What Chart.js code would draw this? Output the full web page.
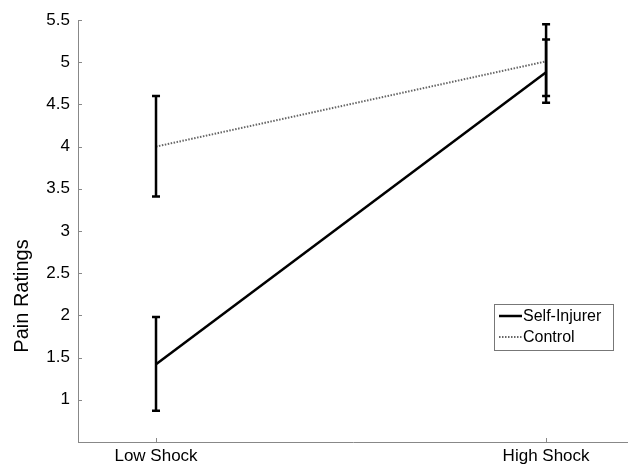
<!DOCTYPE html>
<html>
<head>
<meta charset="utf-8">
<script src="https://cdn.jsdelivr.net/npm/chart.js@4/dist/chart.umd.min.js"></script>
<style>
  html, body { margin: 0; padding: 0; background: #fff; }
  #wrap { width: 628px; height: 465px; }
</style>
</head>
<body>
<div id="wrap"><canvas id="myChart" width="628" height="465"></canvas></div>
<script>
// data
const conditions = ['Low Shock', 'High Shock'];
const conditionX = [1, 2];
const seriesNames = ['Self-Injurer', 'Control'];
const selfInjurer = [1.42, 4.88];
const selfInjurerLow = [0.87, 4.52];
const selfInjurerHigh = [1.98, 5.27];
const control = [4.0, 5.01];
const controlLow = [3.41, 4.60];
const controlHigh = [4.60, 5.45];
const yTicks = [1, 1.5, 2, 2.5, 3, 3.5, 4, 4.5, 5, 5.5];

const FONT = "'Liberation Sans', Arial, sans-serif";

function toPoints(vals) {
    return vals.map((v, i) => ({ x: conditionX[i], y: v }));
}

// error bars, axis ticks (inward), y title and legend
const extras = {
    id: 'extras',
    afterDatasetsDraw(chart) {
        const ctx = chart.ctx;
        const xs = chart.scales.x, ys = chart.scales.y;
        const bars = [[selfInjurerLow, selfInjurerHigh], [controlLow, controlHigh]];
        ctx.save();
        ctx.strokeStyle = '#000';
        ctx.lineWidth = 2.5;
        bars.forEach(([lo, hi]) => {
            for (let i = 0; i < conditionX.length; i++) {
                const px = xs.getPixelForValue(conditionX[i]);
                const y1 = ys.getPixelForValue(lo[i]);
                const y2 = ys.getPixelForValue(hi[i]);
                ctx.beginPath();
                ctx.moveTo(px, y1); ctx.lineTo(px, y2);
                ctx.moveTo(px - 4, y1); ctx.lineTo(px + 4, y1);
                ctx.moveTo(px - 4, y2); ctx.lineTo(px + 4, y2);
                ctx.stroke();
            }
        });
        ctx.restore();
    },
    afterDraw(chart) {
        const ctx = chart.ctx;
        const xs = chart.scales.x, ys = chart.scales.y;
        const a = chart.chartArea;
        ctx.save();
        // inward ticks
        ctx.strokeStyle = '#888';
        ctx.lineWidth = 1;
        ctx.beginPath();
        yTicks.forEach(t => {
            const py = Math.round(ys.getPixelForValue(t)) + 0.5;
            ctx.moveTo(a.left, py); ctx.lineTo(a.left + 4, py);
        });
        conditionX.forEach(c => {
            const px = Math.round(xs.getPixelForValue(c)) + 0.5;
            ctx.moveTo(px, a.bottom); ctx.lineTo(px, a.bottom - 4);
        });
        ctx.stroke();

        // y axis title
        ctx.fillStyle = '#000';
        ctx.font = '20px ' + FONT;
        ctx.textAlign = 'center';
        ctx.textBaseline = 'middle';
        ctx.translate(22, 296);
        ctx.rotate(-Math.PI / 2);
        ctx.fillText('Pain Ratings', 0, 0);
        ctx.setTransform(1, 0, 0, 1, 0, 0);

        // legend box
        const lx = 494, ly = 304, lw = 119, lh = 46;
        ctx.fillStyle = '#fff';
        ctx.fillRect(lx, ly, lw, lh);
        ctx.strokeStyle = '#777';
        ctx.lineWidth = 1;
        ctx.strokeRect(lx + 0.5, ly + 0.5, lw, lh);
        ctx.font = '16px ' + FONT;
        ctx.textAlign = 'left';
        ctx.fillStyle = '#000';
        chart.data.datasets.forEach((ds, i) => {
            const cy = ly + 12 + i * 21;
            ctx.beginPath();
            ctx.strokeStyle = ds.borderColor;
            ctx.lineWidth = ds.borderWidth;
            ctx.setLineDash(ds.borderDash || []);
            ctx.moveTo(lx + 5, cy); ctx.lineTo(lx + 28, cy);
            ctx.stroke();
            ctx.setLineDash([]);
            ctx.fillText(ds.label, lx + 29, cy + 1);
        });
        ctx.restore();
    }
};

new Chart(document.getElementById('myChart').getContext('2d'), {
    type: 'line',
    data: {
        datasets: [{
            label: seriesNames[0],
            data: toPoints(selfInjurer),
            borderColor: '#000',
            borderWidth: 2.5,
            pointRadius: 0,
            fill: false
        }, {
            label: seriesNames[1],
            data: toPoints(control),
            borderColor: '#666',
            borderWidth: 2,
            borderDash: [1.5, 1.5],
            pointRadius: 0,
            fill: false
        }]
    },
    options: {
        responsive: false,
        animation: false,
        layout: { padding: { left: 0, right: 0, top: 20, bottom: 0 } },
        plugins: { legend: { display: false }, tooltip: { enabled: false } },
        scales: {
            x: {
                type: 'linear',
                min: 0.8,
                max: 2.21,
                afterBuildTicks: s => { s.ticks = conditionX.map(v => ({ value: v })); },
                afterFit: s => { s.height = 23; },
                ticks: {
                    callback: v => conditions[conditionX.indexOf(v)] || '',
                    color: '#000',
                    font: { family: FONT, size: 17 },
                    padding: 4,
                    maxRotation: 0
                },
                grid: { display: false, drawTicks: false },
                border: { display: true, color: '#888', width: 1 }
            },
            y: {
                min: 0.5,
                max: 5.5,
                afterBuildTicks: s => { s.ticks = yTicks.map(v => ({ value: v })); },
                afterFit: s => { s.width = 78; },
                ticks: {
                    callback: v => String(v),
                    color: '#000',
                    font: { family: FONT, size: 17 },
                    padding: 8
                },
                grid: { display: false, drawTicks: false },
                border: { display: true, color: '#888', width: 1 }
            }
        }
    },
    plugins: [extras]
});
</script>
</body>
</html>
